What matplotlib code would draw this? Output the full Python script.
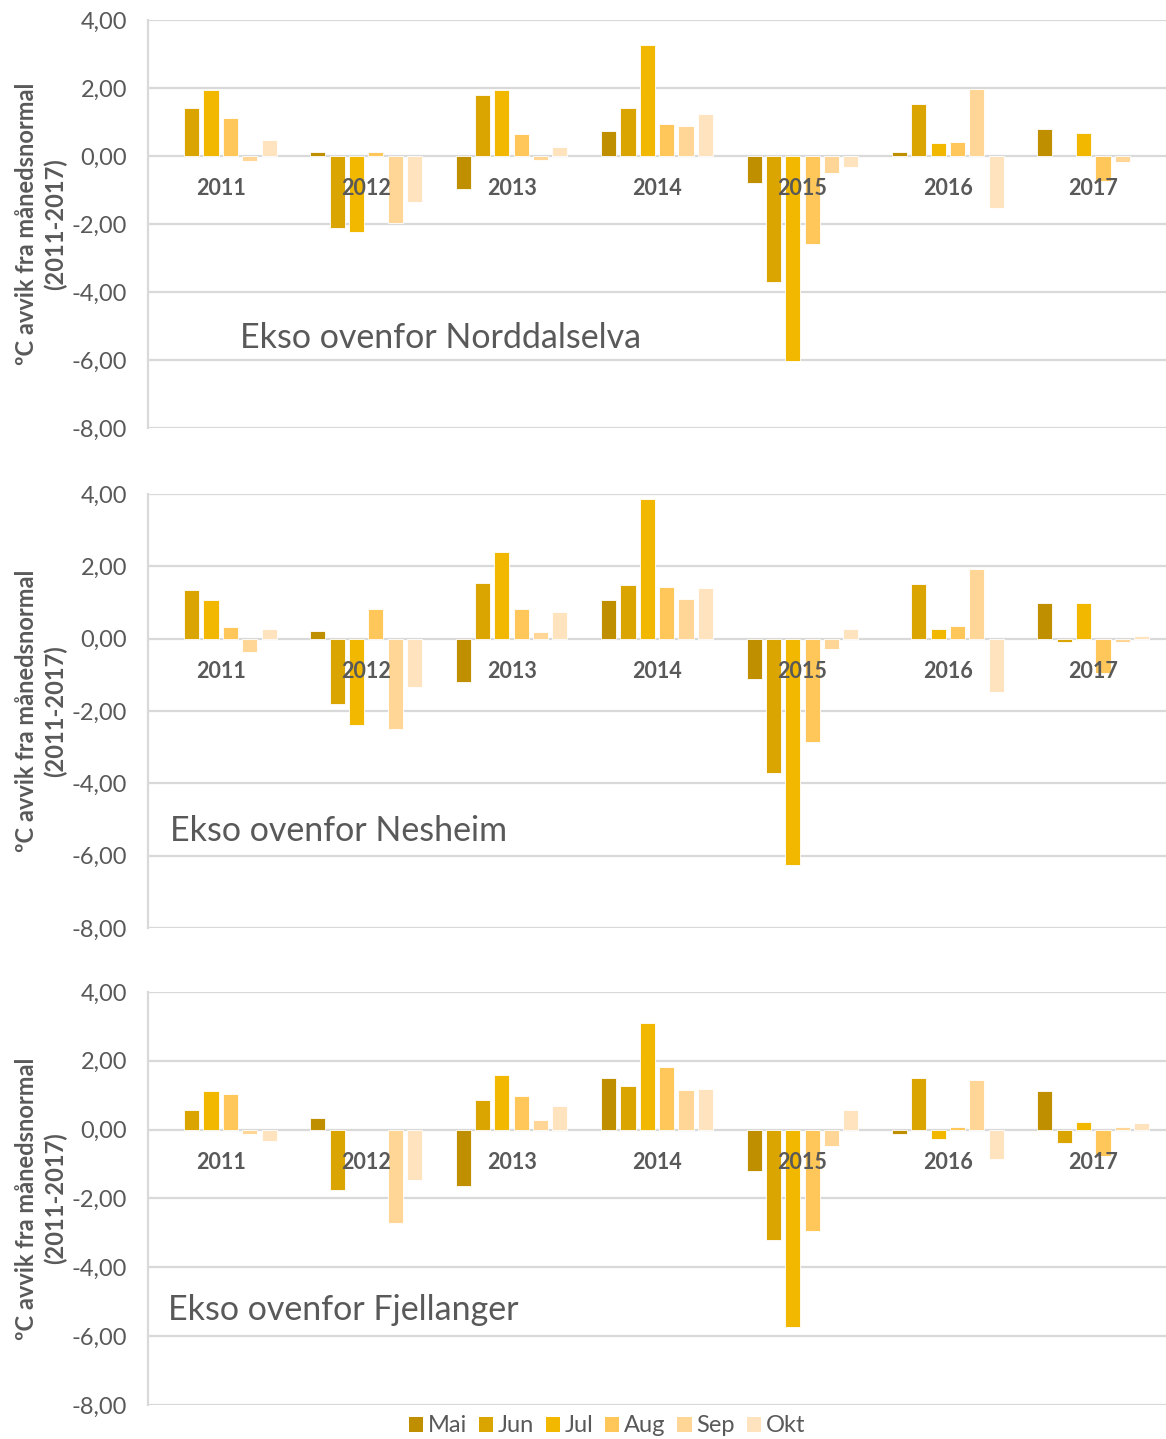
import matplotlib
matplotlib.use("Agg")
import matplotlib.pyplot as plt
import numpy as np
from matplotlib.patches import Patch
from matplotlib.ticker import FuncFormatter

plt.rcParams["font.family"] = ["Lato", "DejaVu Sans"]

years = ["2011", "2012", "2013", "2014", "2015", "2016", "2017"]
months = ["Mai", "Jun", "Jul", "Aug", "Sep", "Okt"]
colors = ["#BF8F00", "#DAA500", "#F2B800", "#FFC75A", "#FFD696", "#FFE2BE"]

nan = np.nan
# rows = months (Mai..Okt), columns = years (2011..2017)
norddalselva = [
    [nan, 0.11, -0.97, 0.73, -0.78, 0.12, 0.78],
    [1.40, -2.13, 1.78, 1.40, -3.70, 1.52, nan],
    [1.95, -2.24, 1.94, 3.26, -6.02, 0.37, 0.67],
    [1.11, 0.12, 0.64, 0.93, -2.58, 0.42, -0.73],
    [-0.14, -1.98, -0.13, 0.89, -0.50, 1.97, -0.19],
    [0.47, -1.36, 0.27, 1.24, -0.31, -1.52, nan],
]
nesheim = [
    [nan, 0.21, -1.20, 1.07, -1.11, nan, 0.99],
    [1.35, -1.80, 1.54, 1.49, -3.72, 1.51, -0.10],
    [1.08, -2.38, 2.39, 3.87, -6.27, 0.27, 1.00],
    [0.33, 0.82, 0.83, 1.43, -2.87, 0.36, -0.95],
    [-0.38, -2.49, 0.18, 1.11, -0.29, 1.94, -0.10],
    [0.26, -1.33, 0.73, 1.40, 0.28, -1.47, 0.08],
]
fjellanger = [
    [nan, 0.34, -1.65, 1.51, -1.21, -0.12, 1.12],
    [0.58, -1.76, 0.87, 1.28, -3.21, 1.51, -0.38],
    [1.13, nan, 1.60, 3.11, -5.73, -0.27, 0.23],
    [1.05, nan, 0.99, 1.81, -2.95, 0.09, -0.77],
    [-0.13, -2.71, 0.28, 1.15, -0.48, 1.45, 0.08],
    [-0.34, -1.45, 0.69, 1.19, 0.58, -0.86, 0.20],
]

panels = [
    ("Ekso ovenfor Norddalselva", norddalselva, [148, 20, 1166, 428], (0.09, 0.22)),
    ("Ekso ovenfor Nesheim", nesheim, [148, 494, 1166, 928], (0.022, 0.224)),
    ("Ekso ovenfor Fjellanger", fjellanger, [148, 992, 1166, 1405], (0.02, 0.23)),
]

W, H = 1166, 1439
TXT = "#595959"
GRID = "#D9D9D9"

fig = plt.figure(figsize=(W / 100, H / 100), dpi=100)

x = np.arange(len(years))
step = 0.133
width = 0.104

for title, data, (x0, y0, x1, y1), tpos in panels:
    ax = fig.add_axes([x0 / W, 1 - y1 / H, (x1 - x0) / W, (y1 - y0) / H])
    for i, (m, c) in enumerate(zip(months, colors)):
        ax.bar(x + (i - 2.5) * step, data[i], width=width, color=c,
               edgecolor="white", linewidth=0.6, zorder=3, label=m)
    ax.set_ylim(-8, 4)
    ax.set_xlim(-0.5, len(years) - 0.5)
    ax.set_yticks(np.arange(-8, 4.1, 2))
    ax.yaxis.set_major_formatter(FuncFormatter(lambda v, p: f"{v:.2f}".replace(".", ",")))
    ax.tick_params(axis="y", length=0, labelsize=17, labelcolor=TXT, pad=15)
    ax.set_xticks([])
    ax.grid(axis="y", color=GRID, linewidth=1.6, zorder=0)
    for s in ["top", "right", "bottom"]:
        ax.spines[s].set_visible(False)
    ax.spines["left"].set_color(GRID)
    ax.spines["left"].set_linewidth(1.6)
    for xi, yr in zip(x, years):
        ax.annotate(yr, (xi, 0), xytext=(0, -23.5), textcoords="offset points",
                    ha="center", va="center", fontsize=15.5, fontweight="bold",
                    color=TXT, zorder=5)
    ax.text(tpos[0], tpos[1], title, transform=ax.transAxes, fontsize=24.5,
            color=TXT, va="center", ha="left")
    fig.text(41 / W, 1 - (y0 + y1) / 2 / H, "ºC avvik fra månedsnormal\n(2011-2017)",
             rotation=90, ha="center", va="center", fontsize=17,
             fontweight="bold", color=TXT, linespacing=1.3)

handles = [Patch(facecolor=c, edgecolor="none", label=m) for m, c in zip(months, colors)]
fig.legend(handles=handles, loc="center", bbox_to_anchor=(607 / W, 1 - 1426 / H),
           ncol=6, frameon=False, fontsize=17, handlelength=0.6, handleheight=0.6,
           handletextpad=0.2, columnspacing=0.5, labelcolor=TXT)

fig.savefig("out.png", dpi=100)
